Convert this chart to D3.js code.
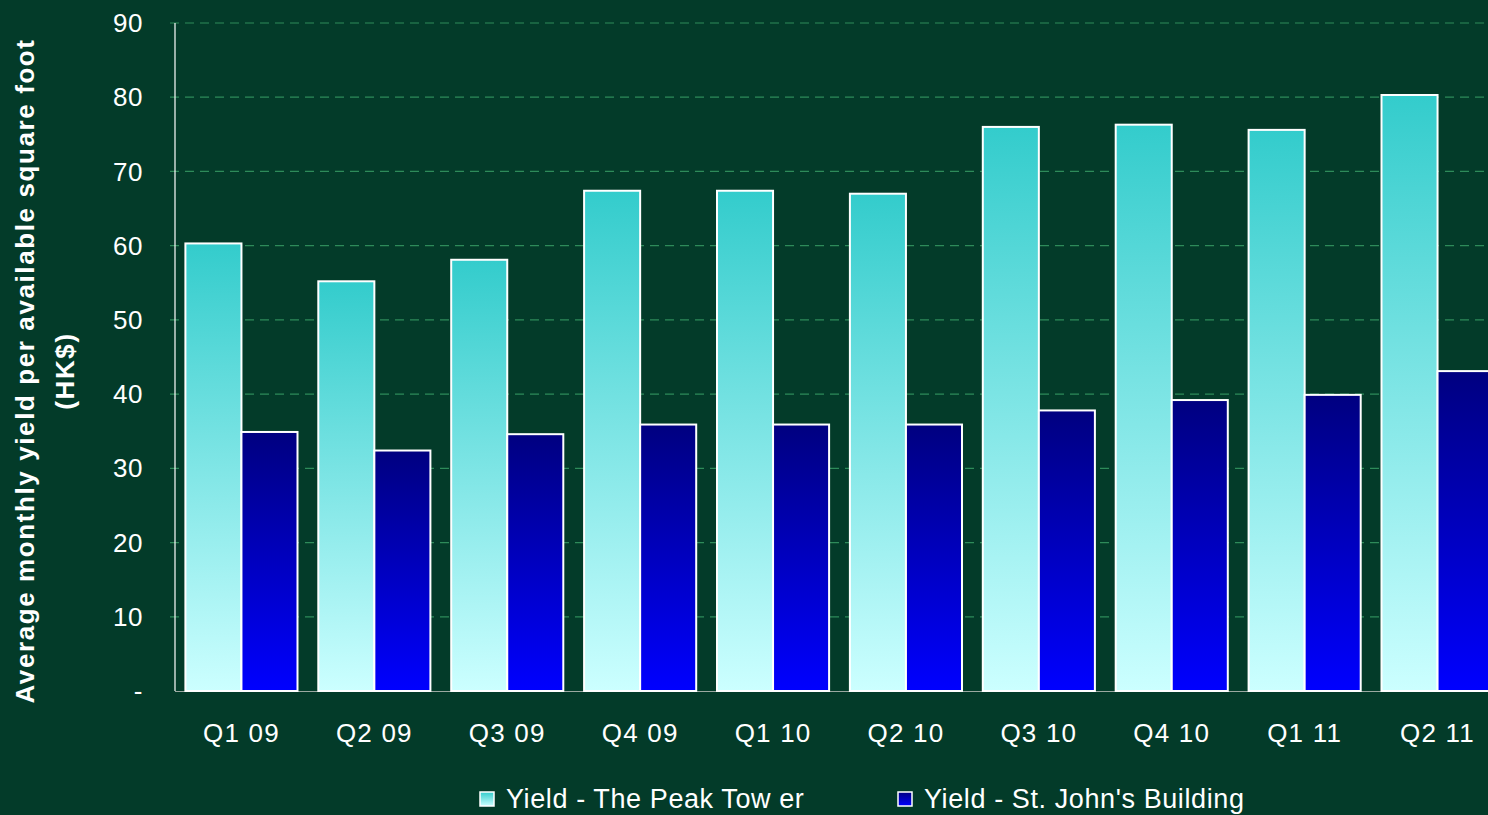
<!DOCTYPE html>
<html>
<head>
<meta charset="utf-8">
<script src="https://cdn.jsdelivr.net/npm/d3@7"></script>
<style>
  html, body { margin: 0; padding: 0; background: #033b29; }
  svg { display: block; font-family: "Liberation Sans", Arial, sans-serif; }
</style>
</head>
<body>
<svg id="chart" width="1488" height="815"></svg>
<script>
// Quarterly yield per available square foot, HK$
var quarters = ["Q1 09", "Q2 09", "Q3 09", "Q4 09", "Q1 10", "Q2 10", "Q3 10", "Q4 10", "Q1 11", "Q2 11"];
var peakTower = [60.3, 55.2, 58.1, 67.4, 67.4, 67.0, 76.0, 76.3, 75.6, 80.3];
var stJohns = [34.9, 32.4, 34.6, 35.9, 35.9, 35.9, 37.8, 39.2, 39.9, 43.1];
var seriesNames = ["Yield - The Peak Tow er", "Yield - St. John's Building"];
var yTicks = [0, 10, 20, 30, 40, 50, 60, 70, 80, 90];

var svg = d3.select("#chart");
var plotLeft = 175, plotTop = 23, plotBottom = 691;
var step = 132.9;
var plotRight = plotLeft + step * quarters.length;

var x = d3.scaleBand().domain(quarters).range([plotLeft, plotRight]).paddingInner(0).paddingOuter(0);
var y = d3.scaleLinear().domain([0, 90]).range([plotBottom, plotTop]);

// gradients for the two series
var defs = svg.append("defs");
function addGradient(id, topColor, bottomColor) {
    var g = defs.append("linearGradient").attr("id", id)
        .attr("x1", 0).attr("y1", 0).attr("x2", 0).attr("y2", 1);
    g.append("stop").attr("offset", "0%").attr("stop-color", topColor);
    g.append("stop").attr("offset", "100%").attr("stop-color", bottomColor);
}
addGradient("gradPeak", "#33cccc", "#ccffff");
addGradient("gradJohn", "#000080", "#0000ff");

// dashed gridlines
svg.append("g").selectAll("line")
    .data(yTicks.filter(function(d) { return d > 0; }))
    .enter().append("line")
    .attr("x1", plotLeft - 5).attr("x2", 1488)
    .attr("y1", function(d) { return y(d); })
    .attr("y2", function(d) { return y(d); })
    .attr("stroke", "#2e8b5a")
    .attr("stroke-width", 1.2)
    .attr("stroke-dasharray", "9,6");

// y tick labels
svg.append("g").selectAll("text")
    .data(yTicks)
    .enter().append("text")
    .attr("x", 143)
    .attr("y", function(d) { return y(d); })
    .attr("dy", "0.35em")
    .attr("text-anchor", "end")
    .attr("fill", "#ffffff")
    .style("font-size", "26px")
    .style("letter-spacing", "0.5px")
    .text(function(d) { return d === 0 ? "-" : d; });

// axes lines
svg.append("line").attr("x1", plotLeft).attr("x2", plotLeft).attr("y1", plotTop).attr("y2", plotBottom)
    .attr("stroke", "#ffffff").attr("stroke-width", 1.2);
svg.append("line").attr("x1", plotLeft).attr("x2", 1488).attr("y1", plotBottom + 0.5).attr("y2", plotBottom + 0.5)
    .attr("stroke", "#9aa8a0").attr("stroke-width", 1.2);

// bars
var groupPad = 10.4;
var barW = (step - groupPad * 2) / 2;
var groups = svg.append("g").selectAll("g")
    .data(quarters)
    .enter().append("g")
    .attr("transform", function(d) { return "translate(" + (x(d) + groupPad) + ",0)"; });

groups.append("rect")
    .attr("x", 0)
    .attr("y", function(d, i) { return y(peakTower[i]); })
    .attr("width", barW)
    .attr("height", function(d, i) { return plotBottom - y(peakTower[i]); })
    .attr("fill", "url(#gradPeak)")
    .attr("stroke", "#ffffff")
    .attr("stroke-width", 2);

groups.append("rect")
    .attr("x", barW)
    .attr("y", function(d, i) { return y(stJohns[i]); })
    .attr("width", barW)
    .attr("height", function(d, i) { return plotBottom - y(stJohns[i]); })
    .attr("fill", "url(#gradJohn)")
    .attr("stroke", "#ffffff")
    .attr("stroke-width", 2);

// x labels
svg.append("g").selectAll("text")
    .data(quarters)
    .enter().append("text")
    .attr("x", function(d) { return x(d) + x.bandwidth() / 2; })
    .attr("y", 742)
    .attr("text-anchor", "middle")
    .attr("fill", "#ffffff")
    .style("font-size", "26px")
    .style("letter-spacing", "1.2px")
    .text(function(d) { return d; });

// y axis title
var title = svg.append("text")
    .attr("transform", "translate(0,371) rotate(-90)")
    .attr("text-anchor", "middle")
    .attr("fill", "#ffffff")
    .style("font-size", "26px")
    .style("font-weight", "bold")
    .style("letter-spacing", "1.6px");
title.append("tspan").attr("x", 0).attr("y", 34).text("Average monthly yield per available square foot");
title.append("tspan").attr("x", 0).attr("y", 74).text("(HK$)");

// legend
var legendX = [480, 898];
var legendFills = ["url(#gradPeak)", "url(#gradJohn)"];
var legend = svg.append("g").selectAll("g")
    .data(seriesNames)
    .enter().append("g")
    .attr("transform", function(d, i) { return "translate(" + legendX[i] + ",799)"; });
legend.append("rect")
    .attr("x", 0).attr("y", -7).attr("width", 14).attr("height", 14)
    .attr("fill", function(d, i) { return legendFills[i]; })
    .attr("stroke", "#ffffff").attr("stroke-width", 1.5);
legend.append("text")
    .attr("x", 26).attr("y", 0).attr("dy", "0.35em")
    .attr("fill", "#ffffff")
    .style("font-size", "27px")
    .style("letter-spacing", "0.6px")
    .text(function(d) { return d; });
</script>
</body>
</html>
